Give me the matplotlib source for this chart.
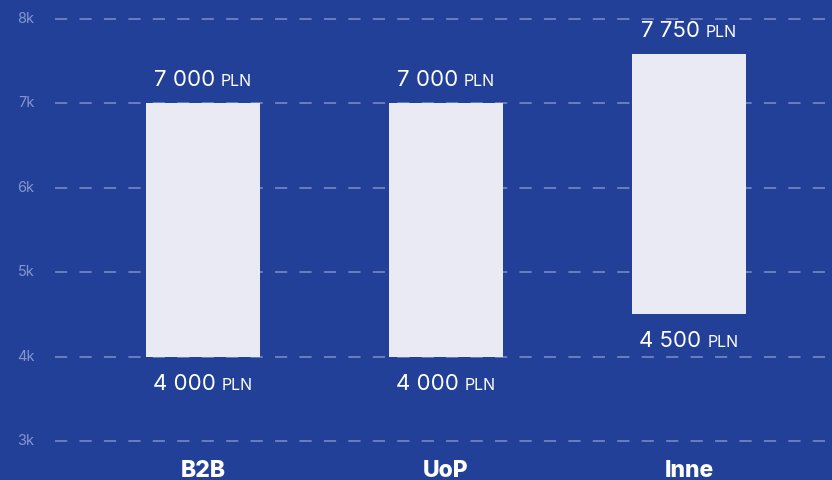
import matplotlib
matplotlib.use("Agg")
import matplotlib.pyplot as plt
import matplotlib.transforms as mtransforms

# salary ranges per contract type (as drawn)
categories = ["B2B", "UoP", "Inne"]
low = [4000, 4000, 4500]
high = [7000, 7000, 7580]
# labels as printed on the chart
low_labels = ["4 000", "4 000", "4 500"]
high_labels = ["7 000", "7 000", "7 750"]
yticks = [3000, 4000, 5000, 6000, 7000, 8000]
ytick_labels = ["3k", "4k", "5k", "6k", "7k", "8k"]

BG = "#224098"
BAR = "#e9eaf3"
GRID = "#7d8ecb"
TICK = "#8595cf"
FONT = ["Inter", "DejaVu Sans"]

fig = plt.figure(figsize=(8.32, 4.8), dpi=100, facecolor=BG)
ax = fig.add_axes([0, 0, 1, 1], facecolor=BG)
ax.set_xlim(-0.835, 2.588)
ax.set_ylim(2540, 8220)
ax.axis("off")

for v, lab in zip(yticks, ytick_labels):
    ax.plot([-0.609, 2.588], [v, v], color=GRID, lw=1.1,
            dashes=(8, 8), zorder=1)
    ax.text(-0.728, v, lab, color=TICK, fontsize=10.5, family=FONT,
            ha="center", va="center")

xs = range(len(categories))
ax.bar(xs, [h - l for l, h in zip(low, high)], bottom=low, width=0.47,
       color=BAR, zorder=2)

renderer = fig.canvas.get_renderer()


def money_label(x, y, num, dy):
    t1 = ax.text(x, y, num, color="white", fontsize=16, family=FONT,
                 ha="left", va="baseline")
    t2 = ax.text(x, y, "PLN", color="white", fontsize=11.5, family=FONT,
                 ha="left", va="baseline")
    w1 = t1.get_window_extent(renderer).width
    w2 = t2.get_window_extent(renderer).width
    gap = 6
    total = w1 + gap + w2
    t1.set_transform(mtransforms.offset_copy(
        ax.transData, fig=fig, x=-total / 2, y=dy, units="dots"))
    t2.set_transform(mtransforms.offset_copy(
        ax.transData, fig=fig, x=-total / 2 + w1 + gap, y=dy, units="dots"))


for i in xs:
    money_label(i, high[i], high_labels[i], 17)
    money_label(i, low[i], low_labels[i], -33)
    ax.text(i, 2650, categories[i], color="white", fontsize=16.5,
            fontweight="heavy", family=FONT, ha="center", va="center")

fig.savefig("out.png", dpi=100, facecolor=BG)
